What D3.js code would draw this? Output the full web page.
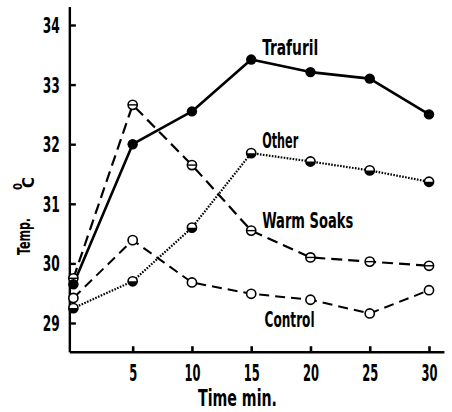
<!DOCTYPE html>
<html>
<head>
<meta charset="utf-8">
<script src="https://cdn.jsdelivr.net/npm/d3@7"></script>
<style>
  html, body { margin: 0; padding: 0; background: #fff; }
  text { font-family: "DejaVu Sans", sans-serif; font-stretch: condensed; font-weight: bold; fill: #000; }
</style>
</head>
<body>
<svg id="chart" width="452" height="412"></svg>
<script>
const times = [0, 5, 10, 15, 20, 25, 30];
const trafuril = [29.65, 32.0, 32.55, 33.42, 33.21, 33.1, 32.5];
const other = [29.25, 29.7, 30.6, 31.85, 31.71, 31.56, 31.37];
const warmSoaks = [29.75, 32.66, 31.65, 30.55, 30.1, 30.03, 29.96];
const control = [29.42, 30.39, 29.68, 29.49, 29.39, 29.16, 29.55];
const xTicks = [5, 10, 15, 20, 25, 30];
const yTicks = [29, 30, 31, 32, 33, 34];
const seriesNames = ["Trafuril", "Other", "Warm Soaks", "Control"];

const svg = d3.select("#chart");
const x = d3.scaleLinear().domain([0, 30]).range([73.4, 429]);
const y = d3.scaleLinear().domain([29, 34]).range([323, 25]);
const xMin = -0.3, xMax = 31.3, yMin = 28.51, yMax = 34.3;

// axes
const ax = svg.append("g");
ax.append("line").attr("x1", x(xMin)).attr("x2", x(xMin)).attr("y1", y(yMax)).attr("y2", y(yMin))
  .attr("stroke", "#000").attr("stroke-width", 2.4);
ax.append("line").attr("x1", x(xMin)).attr("x2", x(xMax)).attr("y1", y(yMin)).attr("y2", y(yMin))
  .attr("stroke", "#000").attr("stroke-width", 2.4);

const yAxis = d3.axisRight(y).tickValues(yTicks).tickSize(6).tickFormat("");
const yg = svg.append("g").attr("transform", `translate(${x(xMin)},0)`).call(yAxis);
yg.select(".domain").remove();
yg.selectAll(".tick line").attr("stroke", "#000").attr("stroke-width", 2.4);
yg.selectAll(".tick").append("text").attr("x", -10).attr("dy", "0.36em")
  .attr("text-anchor", "end").style("font-size", "21px")
  .attr("textLength", 17).attr("lengthAdjust", "spacingAndGlyphs").text(d => d);

const xAxis = d3.axisTop(x).tickValues(xTicks).tickSize(6).tickFormat("");
const xg = svg.append("g").attr("transform", `translate(0,${y(yMin)})`).call(xAxis);
xg.select(".domain").remove();
xg.selectAll(".tick line").attr("stroke", "#000").attr("stroke-width", 2.6);
xg.selectAll(".tick").append("text").attr("y", 28.5)
  .attr("text-anchor", "middle").style("font-size", "23px")
  .attr("textLength", d => String(d).length * 8).attr("lengthAdjust", "spacingAndGlyphs").text(d => d);

// axis titles
svg.append("text").attr("x", 198).attr("y", 406)
  .style("font-size", "23px").attr("textLength", 79).attr("lengthAdjust", "spacingAndGlyphs").text("Time  min.");
svg.append("text").attr("transform", "translate(30,255) rotate(-90)")
  .style("font-size", "18px").attr("textLength", 37).attr("lengthAdjust", "spacingAndGlyphs").text("Temp.");
svg.append("text").attr("transform", "translate(22,190) rotate(-90)")
  .style("font-size", "13px").attr("textLength", 7).attr("lengthAdjust", "spacingAndGlyphs").text("0");
svg.append("text").attr("transform", "translate(34,188) rotate(-90)")
  .style("font-size", "15px").attr("textLength", 11).attr("lengthAdjust", "spacingAndGlyphs").text("C");

// lines
const line = d3.line().x((d, i) => x(times[i])).y(d => y(d));
function drawLine(data, width, dash) {
  svg.append("path").datum(data).attr("d", line).attr("fill", "none")
    .attr("stroke", "#000").attr("stroke-width", width)
    .attr("stroke-dasharray", dash).attr("stroke-linejoin", "round");
}
drawLine(control, 2, "10,6");
drawLine(warmSoaks, 2.2, "11,6");
drawLine(other, 2.2, "1.6,1.4");
drawLine(trafuril, 2.6, null);

const r = 4.6;
// Control markers: open circles
svg.selectAll(".mc").data(control).enter().append("circle")
  .attr("cx", (d, i) => x(times[i])).attr("cy", d => y(d)).attr("r", r)
  .attr("fill", "#fff").attr("stroke", "#000").attr("stroke-width", 1.6);
// Warm soaks: circle with a bar
const ws = svg.selectAll(".mw").data(warmSoaks).enter().append("g")
  .attr("transform", (d, i) => `translate(${x(times[i])},${y(d)})`);
ws.append("circle").attr("r", r).attr("fill", "#fff").attr("stroke", "#000").attr("stroke-width", 1.6);
ws.append("line").attr("x1", -r).attr("x2", r).attr("stroke", "#000").attr("stroke-width", 1.4);
// Other: half-filled circles
const ot = svg.selectAll(".mo").data(other).enter().append("g")
  .attr("transform", (d, i) => `translate(${x(times[i])},${y(d)})`);
ot.append("circle").attr("r", r).attr("fill", "#fff").attr("stroke", "#000").attr("stroke-width", 1.6);
ot.append("path").attr("d", d3.arc()({innerRadius: 0, outerRadius: r, startAngle: Math.PI / 2, endAngle: Math.PI * 1.5}))
  .attr("fill", "#000");
// Trafuril: filled
svg.selectAll(".mt").data(trafuril).enter().append("circle")
  .attr("cx", (d, i) => x(times[i])).attr("cy", d => y(d)).attr("r", r + 0.6)
  .attr("fill", "#000");

// series labels
const labelPos = [[15, 33.5], [15, 31.94], [15, 30.6], [15.2, 28.93]];
const labelLen = [56, 36, 91, 50];
seriesNames.forEach((n, i) => {
  svg.append("text").attr("x", x(labelPos[i][0]) + 11).attr("y", y(labelPos[i][1]))
    .style("font-size", "22px").attr("textLength", labelLen[i]).attr("lengthAdjust", "spacingAndGlyphs").text(n);
});
</script>
</body>
</html>
